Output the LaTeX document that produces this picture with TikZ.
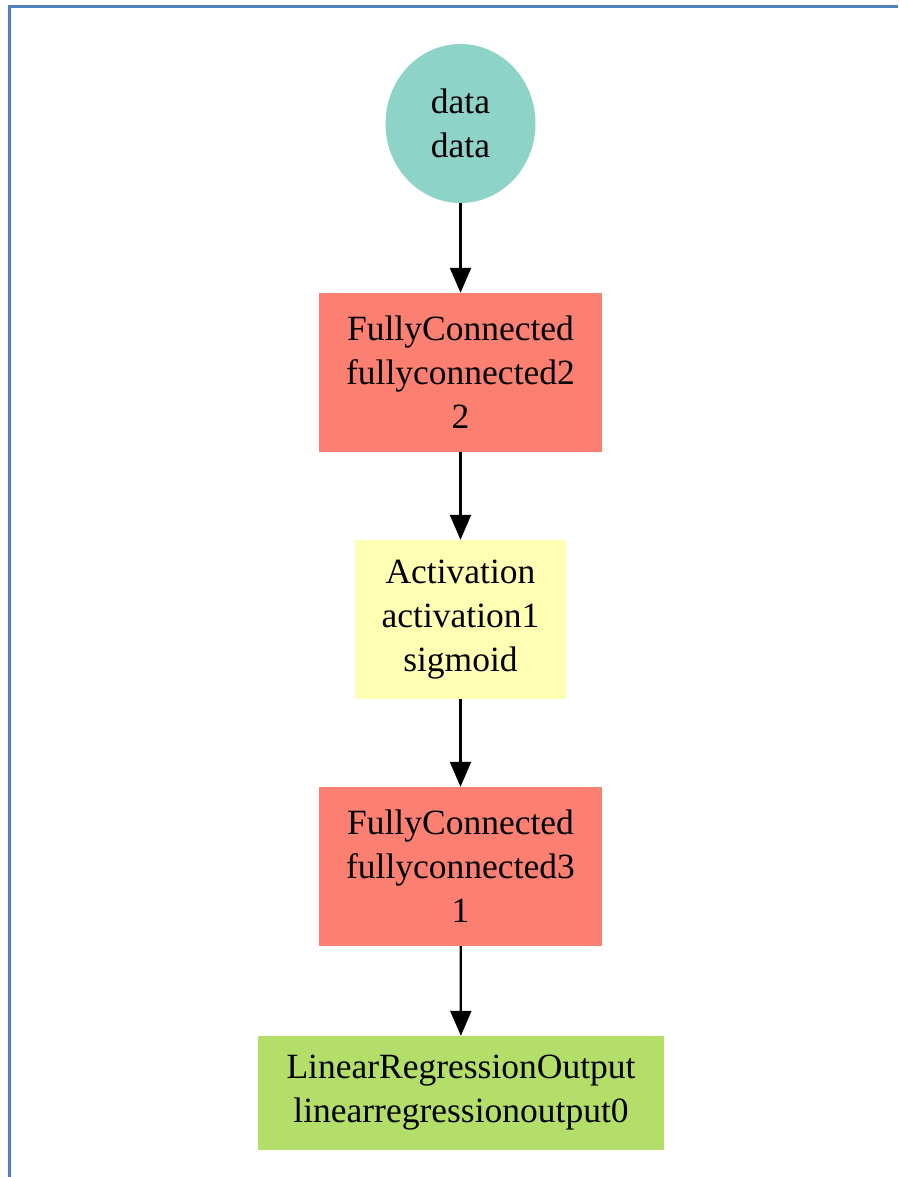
\documentclass[tikz,border=0pt]{standalone}
\usepackage{fontspec}
\setmainfont{Liberation Serif}
\usetikzlibrary{shapes.geometric,arrows.meta}
\definecolor{frameblue}{HTML}{4F81BD}
\definecolor{datacol}{HTML}{8DD3C7}
\definecolor{fccol}{HTML}{FB8072}
\definecolor{actcol}{HTML}{FFFFB3}
\definecolor{outcol}{HTML}{B3DE69}
\begin{document}
\begin{tikzpicture}[x=1pt,y=1pt,
  every node/.style={font=\fontsize{35.5}{44}\selectfont, align=center, inner sep=0pt},
  opbox/.style={rectangle, minimum height=159pt},
  flow/.style={line width=2.2pt, -{Triangle[length=25pt,width=21pt]}}]
  \useasboundingbox (0,0) rectangle (898,-1177);
  % page frame
  \draw[frameblue, line width=3pt] (9,-1177) -- (9,-7) -- (898,-7);
  % graph nodes
  \node[ellipse, fill=datacol, minimum width=150pt, minimum height=159pt] (data) at (460.5,-123.5) {data\\data};
  \node[opbox, fill=fccol, minimum width=283pt] (fc2) at (460.5,-372.5) {FullyConnected\\fullyconnected2\\2};
  \node[opbox, fill=actcol, minimum width=211pt] (act) at (460.5,-619.5) {Activation\\activation1\\sigmoid};
  \node[opbox, fill=fccol, minimum width=283pt] (fc3) at (460.5,-866.5) {FullyConnected\\fullyconnected3\\1};
  \node[rectangle, fill=outcol, minimum width=406pt, minimum height=114pt] (out) at (461,-1093) {LinearRegressionOutput\\linearregressionoutput0};
  % connectors
  \draw[flow] (data) -- (fc2);
  \draw[flow] (fc2) -- (act);
  \draw[flow] (act) -- (fc3);
  \draw[flow] (fc3) -- (out);
\end{tikzpicture}
\end{document}
